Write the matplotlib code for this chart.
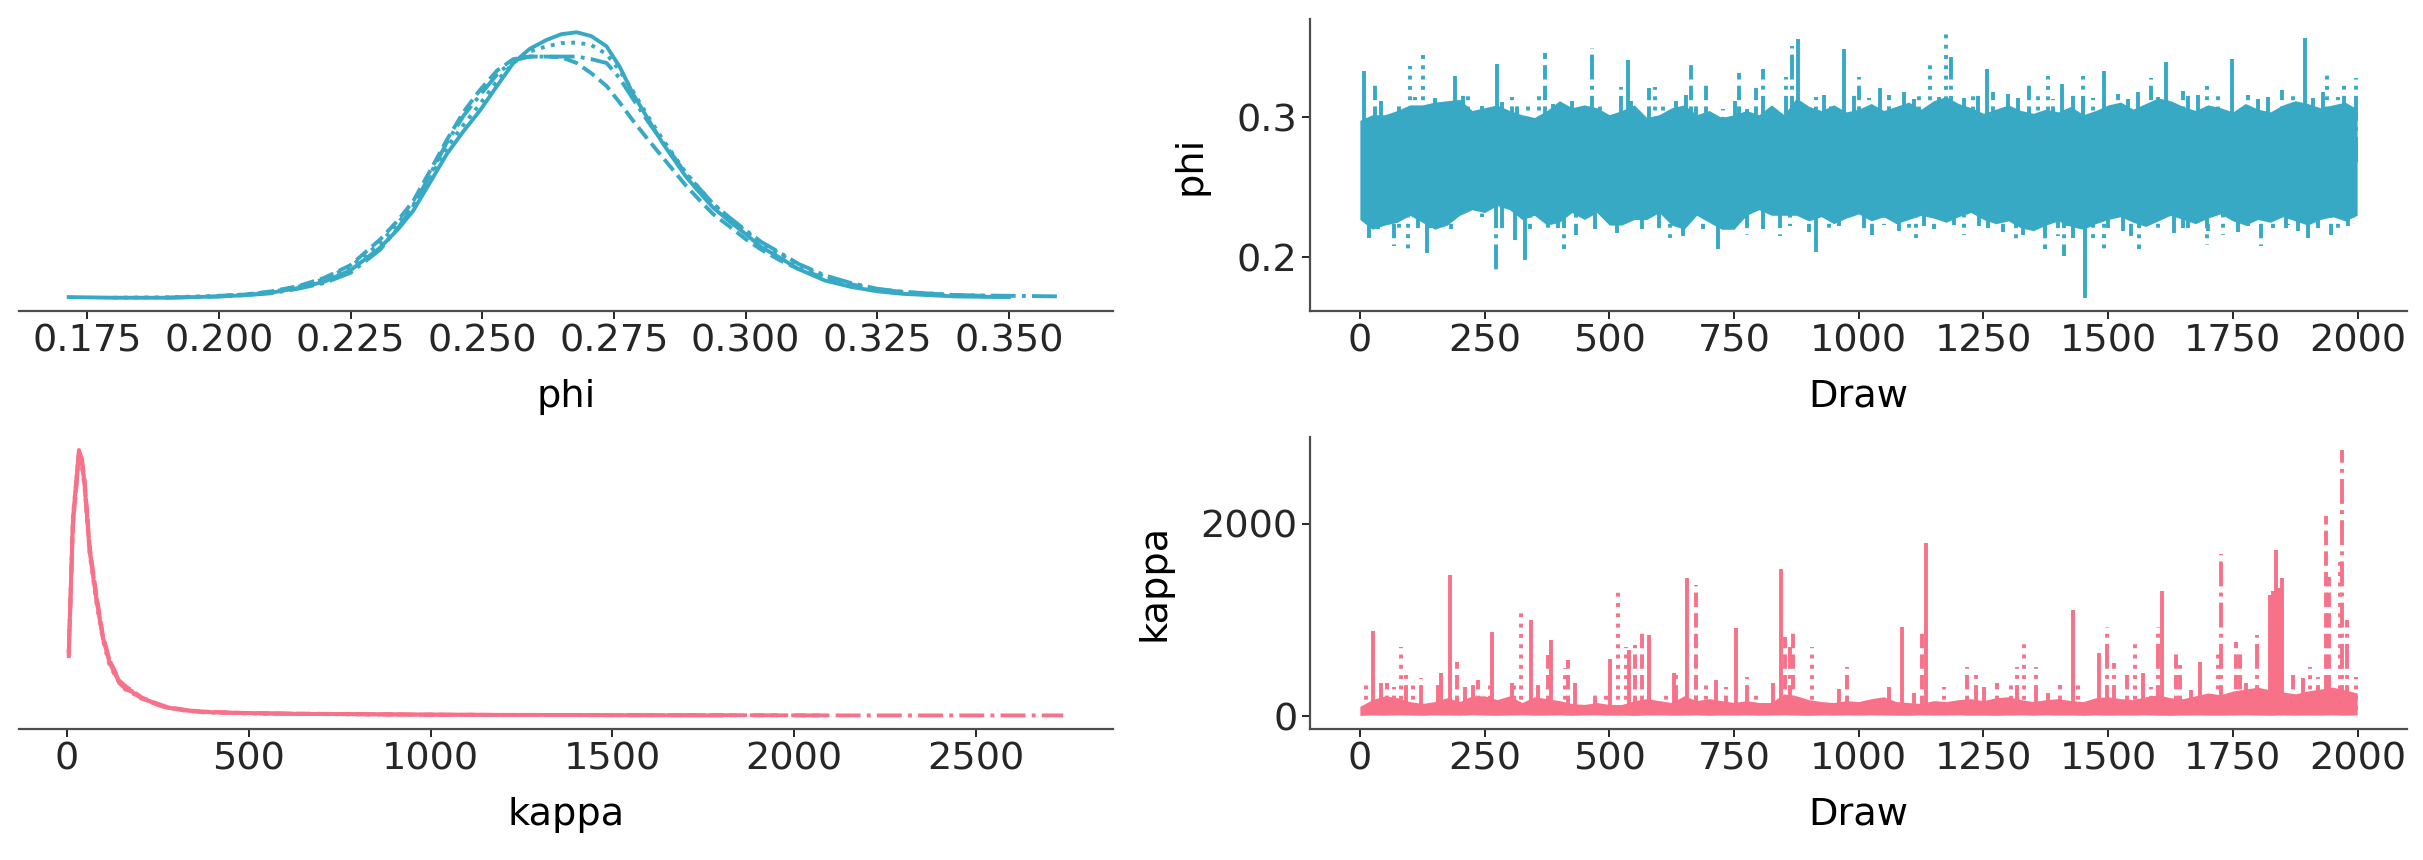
import numpy as np
import matplotlib
matplotlib.use("Agg")
import matplotlib.pyplot as plt

PHI_COLOR = "#38a9c5"
KAPPA_COLOR = "#f77189"
CHAIN_STYLES = ["-", "--", ":", "-."]
LW = 2.8
nan = float("nan")

# ---- posterior densities per chain ----
phi_grid = [0.1715, 0.180, 0.190, 0.200, 0.205, 0.210, 0.215, 0.220, 0.225, 0.2306,
            0.2340, 0.2369, 0.2400, 0.2433, 0.2465, 0.2496, 0.2528, 0.2559, 0.2590, 0.2622,
            0.2650, 0.2679, 0.2707, 0.2736, 0.2761, 0.2786, 0.2815, 0.2843, 0.2865, 0.2887,
            0.2912, 0.2938, 0.2970, 0.3001, 0.3030, 0.3064, 0.3100, 0.3150, 0.3200, 0.3250,
            0.3300, 0.3400, 0.3500, 0.3603]
phi_kde_chain0 = [0.10, 0.05, 0.05, 0.15, 0.25, 0.45, 0.8, 1.3, 2.2, 3.96,
                  5.4, 6.85, 9.0, 11.3, 13.1, 14.7, 16.6, 18.4, 19.5, 20.2,
                  20.65, 20.8, 20.5, 19.7, 18.1, 16.0, 14.0, 12.1, 10.8, 9.5,
                  8.3, 7.1, 6.0, 5.0, 4.0, 3.2, 2.3, 1.4, 0.9, 0.55,
                  0.35, 0.15, 0.1, nan]
phi_kde_chain1 = [nan, nan, nan, 0.2, 0.3, 0.55, 0.95, 1.6, 2.6, 4.6,
                  6.1, 7.6, 9.9, 12.4, 14.6, 16.3, 17.8, 18.7, 18.9, 18.9,
                  18.85, 18.4, 17.6, 16.6, 15.3, 13.9, 12.4, 11.0, 9.9, 8.8,
                  7.7, 6.6, 5.6, 4.6, 3.8, 3.0, 2.3, 1.6, 1.1, 0.7,
                  0.5, 0.25, 0.15, nan]
phi_kde_chain2 = [nan, 0.05, 0.08, 0.2, 0.3, 0.5, 0.9, 1.5, 2.5, 4.3,
                  5.9, 7.3, 9.3, 11.8, 13.6, 15.2, 17.0, 18.4, 19.3, 19.7,
                  19.95, 20.0, 19.8, 19.1, 17.8, 16.2, 14.2, 12.4, 11.1, 9.8,
                  8.6, 7.4, 6.2, 5.2, 4.3, 3.5, 2.6, 1.7, 1.1, 0.7,
                  0.45, 0.2, 0.12, nan]
phi_kde_chain3 = [nan, nan, 0.05, 0.15, 0.25, 0.4, 0.75, 1.2, 2.0, 3.8,
                  5.5, 7.2, 9.6, 12.2, 14.3, 15.9, 17.5, 18.6, 18.9, 18.9,
                  18.9, 18.9, 18.7, 18.4, 17.2, 15.6, 13.8, 12.2, 11.0, 9.7,
                  8.6, 7.4, 6.3, 5.3, 4.4, 3.6, 2.7, 1.8, 1.2, 0.75,
                  0.5, 0.25, 0.2, 0.15]

kappa_grid = [5, 16.6, 33, 40, 48.8, 62.6, 81, 99, 117.7, 145,
              165, 182, 205, 228, 250, 274, 320, 366, 450, 550,
              650, 800, 1000, 1200, 1300, 1500, 1800, 2090, 2400, 2740]
# densities in units of 1e-3
kappa_kde_chain0 = [2.6, 7.8, 10.5, 10.2, 9.1, 6.5, 4.6, 3.1, 2.1, 1.3,
                    1.05, 0.95, 0.7, 0.6, 0.45, 0.35, 0.25, 0.18, 0.14, 0.12,
                    0.10, 0.09, 0.07, 0.06, 0.06, 0.05, 0.04, nan, nan, nan]
kappa_kde_chain1 = [2.4, 7.5, 10.3, 10.3, 9.3, 6.7, 4.8, 3.2, 2.2, 1.4,
                    1.15, 1.0, 0.75, 0.62, 0.5, 0.38, 0.27, 0.2, 0.15, 0.12,
                    0.11, 0.09, 0.07, 0.06, 0.06, 0.05, 0.05, 0.04, nan, nan]
kappa_kde_chain2 = [2.5, 7.9, 10.4, 10.0, 9.0, 6.4, 4.5, 3.0, 2.0, 1.3,
                    1.0, 0.9, 0.72, 0.58, 0.47, 0.36, 0.24, 0.17, 0.13, 0.11,
                    0.1, 0.08, 0.07, 0.06, 0.06, nan, nan, nan, nan, nan]
kappa_kde_chain3 = [2.3, 7.6, 10.2, 10.1, 9.2, 6.6, 4.7, 3.1, 2.2, 1.35,
                    1.1, 0.98, 0.74, 0.6, 0.48, 0.37, 0.26, 0.19, 0.15, 0.12,
                    0.1, 0.09, 0.07, 0.06, 0.06, 0.05, 0.05, 0.04, 0.04, 0.04]

# ---- trace panels: dense band envelope every 25 draws, plus the visible spikes ----
band_draws = list(range(0, 2000, 25)) + [1999]

phi_band_hi = [0.298, 0.302, 0.302, 0.305, 0.309, 0.309, 0.311, 0.312, 0.313, 0.305,
               0.307, 0.309, 0.305, 0.302, 0.300, 0.305, 0.312, 0.307, 0.309, 0.307,
               0.302, 0.305, 0.309, 0.300, 0.302, 0.307, 0.309, 0.302, 0.305, 0.300,
               0.302, 0.305, 0.302, 0.309, 0.302, 0.314, 0.308, 0.305, 0.309, 0.304,
               0.306, 0.310, 0.305, 0.308, 0.311, 0.306, 0.312, 0.315, 0.310, 0.307,
               0.303, 0.306, 0.309, 0.305, 0.303, 0.306, 0.304, 0.308, 0.302, 0.305,
               0.309, 0.311, 0.306, 0.310, 0.314, 0.312, 0.308, 0.305, 0.309, 0.307,
               0.304, 0.310, 0.306, 0.304, 0.309, 0.312, 0.310, 0.307, 0.309, 0.311,
               0.306]
phi_band_lo = [0.227, 0.220, 0.223, 0.225, 0.230, 0.225, 0.220, 0.223, 0.230, 0.234,
               0.232, 0.237, 0.234, 0.227, 0.230, 0.223, 0.225, 0.232, 0.227, 0.232,
               0.223, 0.223, 0.227, 0.227, 0.232, 0.223, 0.220, 0.230, 0.225, 0.220,
               0.220, 0.230, 0.234, 0.230, 0.230, 0.230, 0.226, 0.229, 0.224, 0.228,
               0.231, 0.226, 0.229, 0.224, 0.227, 0.230, 0.228, 0.225, 0.229, 0.232,
               0.227, 0.224, 0.226, 0.221, 0.219, 0.223, 0.226, 0.222, 0.220, 0.224,
               0.227, 0.229, 0.225, 0.222, 0.226, 0.230, 0.227, 0.224, 0.228, 0.231,
               0.226, 0.223, 0.227, 0.225, 0.229, 0.226, 0.223, 0.227, 0.229, 0.226,
               0.230]

phi_spikes_chain0 = [(9, 0.333), (190, 0.330), (274, 0.338), (538, 0.341), (878, 0.356),
                     (971, 0.349), (1042, 0.321), (1258, 0.335), (1408, 0.324), (1491, 0.333),
                     (1615, 0.340), (1748, 0.342), (1894, 0.357), (19, 0.214), (135, 0.203),
                     (331, 0.198), (566, 0.220), (717, 0.206), (915, 0.204), (1242, 0.222),
                     (1454, 0.171), (1632, 0.217), (1901, 0.214),
                     (42, 0.312), (150, 0.314), (284, 0.311), (425, 0.312), (543, 0.312),
                     (654, 0.316), (775, 0.306), (36, 0.220), (170, 0.227), (311, 0.212),
                     (472, 0.220), (647, 0.215), (808, 0.220), (930, 0.316), (1090, 0.318),
                     (1210, 0.314), (1300, 0.317), (1450, 0.315), (1560, 0.318), (1680, 0.316),
                     (1800, 0.313), (1930, 0.318), (960, 0.222), (1080, 0.219), (1190, 0.223),
                     (1330, 0.216), (1430, 0.214), (1530, 0.219), (1660, 0.221), (1760, 0.218),
                     (1880, 0.219)]
phi_spikes_chain1 = [(30, 0.326), (304, 0.315), (372, 0.346), (664, 0.341), (694, 0.327),
                     (760, 0.332), (1001, 0.329), (1341, 0.327), (1585, 0.328), (1848, 0.320),
                     (69, 0.208), (183, 0.220), (433, 0.216), (1026, 0.216), (1374, 0.206),
                     (1806, 0.208), (1947, 0.216),
                     (79, 0.311), (168, 0.312), (314, 0.312), (449, 0.312), (580, 0.321),
                     (674, 0.312), (794, 0.321), (52, 0.227), (204, 0.231), (341, 0.220),
                     (516, 0.217), (687, 0.220), (862, 0.222), (945, 0.312), (1060, 0.316),
                     (1160, 0.315), (1270, 0.318), (1390, 0.313), (1520, 0.317), (1650, 0.319),
                     (1780, 0.316), (1960, 0.315), (900, 0.218), (1050, 0.223), (1150, 0.220),
                     (1290, 0.218), (1420, 0.222), (1545, 0.215), (1700, 0.219), (1830, 0.221),
                     (1990, 0.224)]
phi_spikes_chain2 = [(101, 0.337), (126, 0.346), (360, 0.316), (591, 0.322), (1142, 0.341),
                     (1175, 0.361), (1379, 0.330), (1698, 0.327), (1939, 0.333), (96, 0.202),
                     (622, 0.214), (1114, 0.211), (1491, 0.206),
                     (111, 0.315), (217, 0.316), (338, 0.308), (482, 0.310), (607, 0.310),
                     (728, 0.306), (829, 0.305), (79, 0.217), (244, 0.229), (378, 0.220),
                     (580, 0.224), (728, 0.217), (915, 0.315), (1020, 0.314), (1120, 0.319),
                     (1230, 0.316), (1360, 0.318), (1470, 0.314), (1600, 0.315), (1720, 0.318),
                     (1870, 0.316), (940, 0.221), (1100, 0.218), (1210, 0.216), (1350, 0.220),
                     (1470, 0.212), (1600, 0.220), (1730, 0.216), (1860, 0.223), (1960, 0.218)]
phi_spikes_chain3 = [(207, 0.317), (466, 0.350), (808, 0.335), (867, 0.351), (1184, 0.343),
                     (1449, 0.330), (1972, 0.324), (1997, 0.328), (273, 0.188), (409, 0.206),
                     (842, 0.215), (1316, 0.210), (1411, 0.201), (1562, 0.206), (1698, 0.209),
                     (1856, 0.217), (1980, 0.222),
                     (244, 0.308), (388, 0.310), (523, 0.322), (634, 0.312), (751, 0.312),
                     (855, 0.329), (116, 0.220), (140, 0.217), (284, 0.217), (398, 0.217),
                     (600, 0.217), (775, 0.216), (990, 0.317), (1110, 0.313), (1240, 0.319),
                     (1320, 0.314), (1430, 0.316), (1540, 0.313), (1660, 0.317), (1820, 0.315),
                     (1910, 0.314), (1010, 0.220), (1130, 0.222), (1260, 0.219), (1400, 0.215),
                     (1500, 0.221), (1650, 0.217), (1780, 0.222), (1920, 0.220)]

kappa_band_hi = [100, 170, 210, 190, 150, 130, 150, 190, 150, 210,
                 210, 170, 210, 140, 200, 180, 160, 130, 120, 140,
                 120, 120, 160, 180, 160, 140, 210, 160, 180, 160,
                 140, 160, 140, 140, 230, 210, 170, 150, 140, 160,
                 150, 180, 200, 150, 140, 130, 160, 150, 170, 180,
                 160, 190, 200, 170, 150, 170, 180, 160, 150, 190,
                 200, 180, 170, 200, 220, 190, 180, 210, 240, 220,
                 260, 280, 300, 270, 250, 230, 260, 280, 300, 270,
                 240]
kappa_band_lo = [6, 10, 8, 12, 9, 7, 11, 10, 8, 13,
                 9, 7, 10, 12, 8, 9, 11, 7, 10, 12,
                 8, 9, 6, 10, 11, 8, 9, 12, 7, 10,
                 9, 11, 8, 10, 12, 9, 7, 10, 8, 11,
                 9, 12, 10, 8, 7, 11, 9, 10, 12, 8,
                 9, 7, 10, 11, 8, 12, 9, 10, 7, 11,
                 8, 10, 9, 12, 8, 7, 10, 11, 9, 8,
                 10, 12, 9, 7, 11, 8, 10, 9, 12, 8,
                 10]

kappa_spikes_chain0 = [(26, 887), (163, 444), (181, 1466), (265, 870), (343, 998), (384, 790),
                       (501, 589), (579, 842), (655, 1431), (753, 911), (844, 1525),
                       (1087, 929), (1135, 1795), (1429, 1102), (1608, 1303), (1685, 565),
                       (1824, 1258), (1830, 1300), (1836, 1726), (1842, 1330), (1848, 1431),
                       (42, 340), (210, 305), (304, 340), (432, 340), (540, 686), (630, 444),
                       (714, 374), (829, 340), (1111, 236), (1251, 305), (1379, 236),
                       (1481, 652), (1570, 444), (1665, 270), (1776, 340), (1891, 392)]
kappa_spikes_chain1 = [(54, 340), (195, 565), (417, 582), (552, 738), (673, 1362), (869, 911),
                       (976, 513), (1216, 513), (1635, 686), (1756, 773), (1936, 2080),
                       (69, 305), (237, 374), (378, 634), (472, 253), (566, 860), (674, 305),
                       (734, 305), (852, 825), (1127, 860), (1277, 340), (1404, 322),
                       (1538, 478), (1643, 530), (1764, 652), (1871, 426), (1943, 1449)]
kappa_spikes_chain2 = [(12, 357), (83, 721), (309, 357), (323, 1085), (518, 1293), (533, 721),
                       (906, 721), (1332, 790), (1553, 790), (1996, 409),
                       (106, 322), (261, 322), (412, 496), (493, 236), (614, 236), (694, 340),
                       (795, 236), (1170, 305), (1305, 374), (1439, 374), (1586, 305),
                       (1720, 652), (1905, 513), (1965, 1605)]
kappa_spikes_chain3 = [(93, 426), (123, 392), (226, 374), (634, 461), (1355, 513), (1498, 929),
                       (1511, 548), (1726, 1684), (1799, 842), (1968, 2766), (1978, 998),
                       (157, 357), (358, 340), (580, 392), (775, 409), (862, 721), (960, 280),
                       (1060, 300), (1235, 444), (1317, 513), (1600, 929), (1921, 409)]

plt.rcParams.update({
    "font.family": "DejaVu Sans",
    "font.size": 27.5,
    "axes.linewidth": 1.6,
    "axes.edgecolor": "#4d4d4d",
    "xtick.color": "#262626",
    "ytick.color": "#262626",
    "xtick.major.size": 5.5,
    "ytick.major.size": 5.5,
    "xtick.major.width": 1.4,
    "ytick.major.width": 1.4,
})

W, H = 2423, 860
fig = plt.figure(figsize=(W / 100, H / 100), dpi=100)


def box(x0, y_bottom, w):
    return [x0 / W, 1 - y_bottom / H, w / W, 292 / H]


ax_phi_kde = fig.add_axes(box(19, 311, 1094))
ax_phi_tr = fig.add_axes(box(1310, 311, 1097))
ax_kap_kde = fig.add_axes(box(19, 728.7, 1094))
ax_kap_tr = fig.add_axes(box(1310, 728.7, 1097))


def plot_kde(ax, grid, chains, color, label, ticks, fmt):
    for dens, ls in zip(chains, CHAIN_STYLES):
        ax.plot(grid, dens, color=color, ls=ls, lw=LW)
    ax.set_yticks([])
    for side in ("left", "right", "top"):
        ax.spines[side].set_visible(False)
    ax.set_xticks(ticks)
    ax.set_xticklabels([fmt.format(t) for t in ticks])
    ax.set_xlabel(label, color="black", labelpad=14)


def plot_trace(ax, lo, hi, spikes, base, color, label, yticks):
    ax.fill_between(band_draws, lo, hi, color=color, lw=0)
    for sp, ls in zip(spikes, CHAIN_STYLES):
        xs = [s[0] for s in sp]
        ys = [s[1] for s in sp]
        ax.vlines(xs, base, ys, colors=color, linestyles=ls, lw=LW)
    for side in ("right", "top"):
        ax.spines[side].set_visible(False)
    ax.set_xticks(range(0, 2001, 250))
    ax.set_yticks(yticks)
    ax.set_xlabel("Draw", color="black", labelpad=14)
    ax.set_ylabel(label, color="black", labelpad=20)


plot_kde(ax_phi_kde, phi_grid,
         [phi_kde_chain0, phi_kde_chain1, phi_kde_chain2, phi_kde_chain3],
         PHI_COLOR, "phi", np.arange(0.175, 0.351, 0.025), "{:.3f}")
plot_kde(ax_kap_kde, kappa_grid,
         [np.array(c) * 1e-3 for c in (kappa_kde_chain0, kappa_kde_chain1,
                                       kappa_kde_chain2, kappa_kde_chain3)],
         KAPPA_COLOR, "kappa", list(range(0, 2501, 500)), "{:d}")

plot_trace(ax_phi_tr, phi_band_lo, phi_band_hi,
           [phi_spikes_chain0, phi_spikes_chain1, phi_spikes_chain2, phi_spikes_chain3],
           0.268, PHI_COLOR, "phi", [0.2, 0.3])
plot_trace(ax_kap_tr, kappa_band_lo, kappa_band_hi,
           [kappa_spikes_chain0, kappa_spikes_chain1, kappa_spikes_chain2, kappa_spikes_chain3],
           60, KAPPA_COLOR, "kappa", [0, 2000])

fig.savefig("out.png", dpi=100, facecolor="white")
